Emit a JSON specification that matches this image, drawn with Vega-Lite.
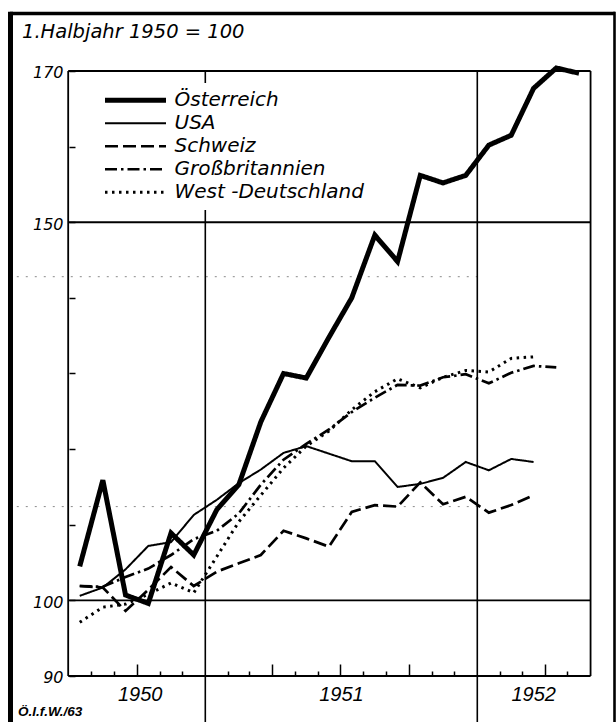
{
  "$schema": "https://vega.github.io/schema/vega-lite/v6.json",
  "width": 605,
  "height": 712,
  "autosize": "none",
  "padding": {"left": 10, "top": 10, "right": 1, "bottom": 0},
  "background": "white",
  "config": {"view": {"stroke": null}, "font": "DejaVu Sans"},
  "resolve": {"axis": {"x": "independent"}},
  "datasets": {
    "preise": [
      {"Land": "Österreich", "Monat": "1950-07", "Index": 104.5},
      {"Land": "Österreich", "Monat": "1950-08", "Index": 115.9},
      {"Land": "Österreich", "Monat": "1950-09", "Index": 100.7},
      {"Land": "Österreich", "Monat": "1950-10", "Index": 99.6},
      {"Land": "Österreich", "Monat": "1950-11", "Index": 108.9},
      {"Land": "Österreich", "Monat": "1950-12", "Index": 106.0},
      {"Land": "Österreich", "Monat": "1951-01", "Index": 112.0},
      {"Land": "Österreich", "Monat": "1951-02", "Index": 115.3},
      {"Land": "Österreich", "Monat": "1951-03", "Index": 123.6},
      {"Land": "Österreich", "Monat": "1951-04", "Index": 130.0},
      {"Land": "Österreich", "Monat": "1951-05", "Index": 129.4},
      {"Land": "Österreich", "Monat": "1951-06", "Index": 134.8},
      {"Land": "Österreich", "Monat": "1951-07", "Index": 140.0},
      {"Land": "Österreich", "Monat": "1951-08", "Index": 148.3},
      {"Land": "Österreich", "Monat": "1951-09", "Index": 144.8},
      {"Land": "Österreich", "Monat": "1951-10", "Index": 156.2},
      {"Land": "Österreich", "Monat": "1951-11", "Index": 155.2},
      {"Land": "Österreich", "Monat": "1951-12", "Index": 156.2},
      {"Land": "Österreich", "Monat": "1952-01", "Index": 160.2},
      {"Land": "Österreich", "Monat": "1952-02", "Index": 161.5},
      {"Land": "Österreich", "Monat": "1952-03", "Index": 167.7},
      {"Land": "Österreich", "Monat": "1952-04", "Index": 170.4},
      {"Land": "Österreich", "Monat": "1952-05", "Index": 169.7},
      {"Land": "USA", "Monat": "1950-07", "Index": 100.6},
      {"Land": "USA", "Monat": "1950-08", "Index": 101.7},
      {"Land": "USA", "Monat": "1950-09", "Index": 104.1},
      {"Land": "USA", "Monat": "1950-10", "Index": 107.2},
      {"Land": "USA", "Monat": "1950-11", "Index": 107.7},
      {"Land": "USA", "Monat": "1950-12", "Index": 111.3},
      {"Land": "USA", "Monat": "1951-01", "Index": 113.3},
      {"Land": "USA", "Monat": "1951-02", "Index": 115.5},
      {"Land": "USA", "Monat": "1951-03", "Index": 117.3},
      {"Land": "USA", "Monat": "1951-04", "Index": 119.5},
      {"Land": "USA", "Monat": "1951-05", "Index": 120.4},
      {"Land": "USA", "Monat": "1951-06", "Index": 119.4},
      {"Land": "USA", "Monat": "1951-07", "Index": 118.4},
      {"Land": "USA", "Monat": "1951-08", "Index": 118.4},
      {"Land": "USA", "Monat": "1951-09", "Index": 115.0},
      {"Land": "USA", "Monat": "1951-10", "Index": 115.4},
      {"Land": "USA", "Monat": "1951-11", "Index": 116.2},
      {"Land": "USA", "Monat": "1951-12", "Index": 118.3},
      {"Land": "USA", "Monat": "1952-01", "Index": 117.2},
      {"Land": "USA", "Monat": "1952-02", "Index": 118.7},
      {"Land": "USA", "Monat": "1952-03", "Index": 118.3},
      {"Land": "Schweiz", "Monat": "1950-07", "Index": 101.9},
      {"Land": "Schweiz", "Monat": "1950-08", "Index": 101.7},
      {"Land": "Schweiz", "Monat": "1950-09", "Index": 98.6},
      {"Land": "Schweiz", "Monat": "1950-10", "Index": 101.4},
      {"Land": "Schweiz", "Monat": "1950-11", "Index": 104.4},
      {"Land": "Schweiz", "Monat": "1950-12", "Index": 101.9},
      {"Land": "Schweiz", "Monat": "1951-01", "Index": 103.8},
      {"Land": "Schweiz", "Monat": "1951-02", "Index": 104.9},
      {"Land": "Schweiz", "Monat": "1951-03", "Index": 106.0},
      {"Land": "Schweiz", "Monat": "1951-04", "Index": 109.2},
      {"Land": "Schweiz", "Monat": "1951-05", "Index": 108.2},
      {"Land": "Schweiz", "Monat": "1951-06", "Index": 107.1},
      {"Land": "Schweiz", "Monat": "1951-07", "Index": 111.7},
      {"Land": "Schweiz", "Monat": "1951-08", "Index": 112.6},
      {"Land": "Schweiz", "Monat": "1951-09", "Index": 112.4},
      {"Land": "Schweiz", "Monat": "1951-10", "Index": 115.6},
      {"Land": "Schweiz", "Monat": "1951-11", "Index": 112.7},
      {"Land": "Schweiz", "Monat": "1951-12", "Index": 113.7},
      {"Land": "Schweiz", "Monat": "1952-01", "Index": 111.6},
      {"Land": "Schweiz", "Monat": "1952-02", "Index": 112.6},
      {"Land": "Schweiz", "Monat": "1952-03", "Index": 113.9},
      {"Land": "Großbritannien", "Monat": "1950-07", "Index": 101.9},
      {"Land": "Großbritannien", "Monat": "1950-08", "Index": 101.8},
      {"Land": "Großbritannien", "Monat": "1950-09", "Index": 103.1},
      {"Land": "Großbritannien", "Monat": "1950-10", "Index": 104.2},
      {"Land": "Großbritannien", "Monat": "1950-11", "Index": 106.0},
      {"Land": "Großbritannien", "Monat": "1950-12", "Index": 108.1},
      {"Land": "Großbritannien", "Monat": "1951-01", "Index": 109.2},
      {"Land": "Großbritannien", "Monat": "1951-02", "Index": 111.5},
      {"Land": "Großbritannien", "Monat": "1951-03", "Index": 115.3},
      {"Land": "Großbritannien", "Monat": "1951-04", "Index": 118.6},
      {"Land": "Großbritannien", "Monat": "1951-05", "Index": 120.7},
      {"Land": "Großbritannien", "Monat": "1951-06", "Index": 122.6},
      {"Land": "Großbritannien", "Monat": "1951-07", "Index": 124.9},
      {"Land": "Großbritannien", "Monat": "1951-08", "Index": 126.8},
      {"Land": "Großbritannien", "Monat": "1951-09", "Index": 128.5},
      {"Land": "Großbritannien", "Monat": "1951-10", "Index": 128.4},
      {"Land": "Großbritannien", "Monat": "1951-11", "Index": 129.5},
      {"Land": "Großbritannien", "Monat": "1951-12", "Index": 129.9},
      {"Land": "Großbritannien", "Monat": "1952-01", "Index": 128.7},
      {"Land": "Großbritannien", "Monat": "1952-02", "Index": 130.1},
      {"Land": "Großbritannien", "Monat": "1952-03", "Index": 131.0},
      {"Land": "Großbritannien", "Monat": "1952-04", "Index": 130.8},
      {"Land": "West -Deutschland", "Monat": "1950-07", "Index": 97.1},
      {"Land": "West -Deutschland", "Monat": "1950-08", "Index": 99.1},
      {"Land": "West -Deutschland", "Monat": "1950-09", "Index": 99.5},
      {"Land": "West -Deutschland", "Monat": "1950-10", "Index": 100.8},
      {"Land": "West -Deutschland", "Monat": "1950-11", "Index": 102.3},
      {"Land": "West -Deutschland", "Monat": "1950-12", "Index": 101.0},
      {"Land": "West -Deutschland", "Monat": "1951-01", "Index": 105.8},
      {"Land": "West -Deutschland", "Monat": "1951-02", "Index": 110.4},
      {"Land": "West -Deutschland", "Monat": "1951-03", "Index": 113.9},
      {"Land": "West -Deutschland", "Monat": "1951-04", "Index": 117.5},
      {"Land": "West -Deutschland", "Monat": "1951-05", "Index": 120.4},
      {"Land": "West -Deutschland", "Monat": "1951-06", "Index": 122.4},
      {"Land": "West -Deutschland", "Monat": "1951-07", "Index": 125.2},
      {"Land": "West -Deutschland", "Monat": "1951-08", "Index": 127.6},
      {"Land": "West -Deutschland", "Monat": "1951-09", "Index": 129.3},
      {"Land": "West -Deutschland", "Monat": "1951-10", "Index": 128.1},
      {"Land": "West -Deutschland", "Monat": "1951-11", "Index": 129.5},
      {"Land": "West -Deutschland", "Monat": "1951-12", "Index": 130.4},
      {"Land": "West -Deutschland", "Monat": "1952-01", "Index": 130.2},
      {"Land": "West -Deutschland", "Monat": "1952-02", "Index": 132.0},
      {"Land": "West -Deutschland", "Monat": "1952-03", "Index": 132.2}
    ]
  },
  "layer": [
    {
      "data": {"values": [{}]},
      "mark": {"type": "rule", "color": "#8a8a8a", "strokeWidth": 1, "strokeDash": [2, 7]},
      "encoding": {
        "x": {"datum": {"year": 1950, "month": 4, "date": 23, "utc": true}, "axis": null},
        "x2": {"datum": {"year": 1952, "month": 1, "date": 1, "utc": true}},
        "y": {"datum": 142.8}
      }
    },
    {
      "data": {"values": [{}]},
      "mark": {"type": "rule", "color": "#8a8a8a", "strokeWidth": 1, "strokeDash": [2, 7]},
      "encoding": {
        "x": {"datum": {"year": 1950, "month": 4, "date": 23, "utc": true}, "axis": null},
        "x2": {"datum": {"year": 1952, "month": 1, "date": 1, "utc": true}},
        "y": {"datum": 112.4}
      }
    },
    {
      "data": {"values": [{}]},
      "mark": {"type": "rule", "color": "black", "strokeWidth": 1.8},
      "encoding": {
        "x": {"datum": {"year": 1950, "month": 7, "date": 1, "utc": true}, "axis": null},
        "x2": {"datum": {"year": 1952, "month": 6, "date": 1, "utc": true}},
        "y": {"datum": 100}
      }
    },
    {
      "data": {"values": [{}]},
      "mark": {"type": "rule", "color": "black", "strokeWidth": 1.8},
      "encoding": {
        "x": {"datum": {"year": 1950, "month": 7, "date": 1, "utc": true}, "axis": null},
        "x2": {"datum": {"year": 1952, "month": 6, "date": 1, "utc": true}},
        "y": {"datum": 150}
      }
    },
    {
      "data": {"values": [{}]},
      "mark": {"type": "rule", "color": "black", "strokeWidth": 1.8},
      "encoding": {
        "x": {"datum": {"year": 1950, "month": 7, "date": 1, "utc": true}, "axis": null},
        "x2": {"datum": {"year": 1952, "month": 6, "date": 1, "utc": true}},
        "y": {"datum": 170}
      }
    },
    {
      "data": {"values": [{}]},
      "mark": {"type": "rule", "color": "black", "strokeWidth": 1.8},
      "encoding": {
        "x": {"datum": {"year": 1950, "month": 7, "date": 1, "utc": true}, "axis": null},
        "x2": {"datum": {"year": 1952, "month": 6, "date": 1, "utc": true}},
        "y": {"datum": 90}
      }
    },
    {
      "data": {"values": [{}]},
      "mark": {"type": "rule", "color": "black", "strokeWidth": 1.8},
      "encoding": {
        "x": {"datum": {"year": 1950, "month": 7, "date": 1, "utc": true}, "axis": null},
        "y": {"datum": 90},
        "y2": {"datum": 170}
      }
    },
    {
      "data": {"values": [{}]},
      "mark": {"type": "rule", "color": "black", "strokeWidth": 1.8},
      "encoding": {
        "x": {"datum": {"year": 1952, "month": 6, "date": 1, "utc": true}, "axis": null},
        "y": {"datum": 90},
        "y2": {"datum": 170}
      }
    },
    {
      "data": {"values": [{}]},
      "mark": {"type": "rule", "color": "black", "strokeWidth": 1.6},
      "encoding": {
        "x": {
          "datum": {"year": 1951, "month": 1, "date": 1, "utc": true},
          "axis": {
            "orient": "bottom", "offset": -46, "domain": false, "grid": false, "title": null,
            "labels": false, "ticks": true, "tickColor": "black", "tickWidth": 1.5, "tickSize": -12,
            "values": [
              {"year": 1950, "month": 10, "date": 1, "utc": true},
              {"year": 1951, "month": 4, "date": 1, "utc": true},
              {"year": 1951, "month": 7, "date": 1, "utc": true},
              {"year": 1951, "month": 10, "date": 1, "utc": true},
              {"year": 1952, "month": 4, "date": 1, "utc": true}
            ]
          }
        },
        "y": {"datum": 83.917},
        "y2": {"datum": 170}
      }
    },
    {
      "data": {"values": [{}]},
      "mark": {"type": "rule", "color": "black", "strokeWidth": 1.6},
      "encoding": {
        "x": {
          "datum": {"year": 1952, "month": 1, "date": 1, "utc": true},
          "axis": {
            "orient": "bottom", "offset": -46, "domain": false, "grid": false, "title": null,
            "ticks": false, "labelOverlap": false, "labelFlush": false, "labelBound": false,
            "values": [
              {"year": 1950, "month": 10, "date": 5, "utc": true},
              {"year": 1951, "month": 7, "date": 2, "utc": true},
              {"year": 1952, "month": 3, "date": 16, "utc": true}
            ],
            "labelExpr": "'' + utcyear(datum.value)",
            "labelFont": "Liberation Sans", "labelFontStyle": "italic", "labelFontSize": 20,
            "labelColor": "black", "labelPadding": 8.5
          }
        },
        "y": {"datum": 83.917},
        "y2": {"datum": 170}
      }
    },
    {
      "data": {"values": [{}]},
      "mark": {"type": "rule", "color": "black", "strokeWidth": 5},
      "encoding": {
        "x": {"datum": {"year": 1950, "month": 4, "date": 14, "hours": 14, "utc": true}, "axis": null},
        "y": {"datum": 83.917},
        "y2": {"datum": 177.85}
      }
    },
    {
      "data": {"values": [{}]},
      "mark": {"type": "rule", "color": "black", "strokeWidth": 3.5},
      "encoding": {
        "x": {"datum": {"year": 1950, "month": 4, "date": 13, "hours": 22, "utc": true}, "axis": null},
        "x2": {"datum": {"year": 1952, "month": 7, "date": 3, "hours": 19, "utc": true}},
        "y": {"datum": 177.6}
      }
    },
    {
      "data": {"values": [{}]},
      "mark": {"type": "rule", "color": "black", "strokeWidth": 2.6},
      "encoding": {
        "x": {"datum": {"year": 1952, "month": 7, "date": 3, "hours": 3, "utc": true}, "axis": null},
        "y": {"datum": 83.917},
        "y2": {"datum": 177.85}
      }
    },
    {
      "data": {"values": [{}]},
      "mark": {"type": "text", "text": "1.Halbjahr 1950 = 100", "align": "left", "baseline": "alphabetic", "font": "DejaVu Sans", "fontStyle": "italic", "fontSize": 19.5, "color": "black"},
      "encoding": {
        "x": {"datum": {"year": 1950, "month": 4, "date": 30, "utc": true}, "axis": null},
        "y": {"datum": 174.36}
      }
    },
    {
      "data": {"values": [{}]},
      "mark": {"type": "text", "text": "Ö.I.f.W./63", "align": "left", "baseline": "alphabetic", "font": "Liberation Sans", "fontStyle": "italic", "fontWeight": "bold", "fontSize": 13.5, "color": "black"},
      "encoding": {
        "x": {"datum": {"year": 1950, "month": 4, "date": 24, "hours": 15, "utc": true}, "axis": null},
        "y": {"datum": 84.71}
      }
    },
    {
      "data": {"name": "preise"},
      "mark": {"type": "line", "color": "black"},
      "encoding": {
        "x": {
          "field": "Monat",
          "timeUnit": "utcyearmonth",
          "type": "temporal",
          "bandPosition": 0.5,
          "scale": {
            "type": "utc",
            "nice": false,
            "domain": [
              {"year": 1950, "month": 4, "date": 13, "hours": 22, "utc": true},
              {"year": 1952, "month": 7, "date": 3, "hours": 19, "utc": true}
            ]
          },
          "axis": {
            "orient": "bottom",
            "offset": -46,
            "domain": false,
            "grid": false,
            "title": null,
            "labels": false,
            "values": [
              {"year": 1950, "month": 8, "date": 1, "utc": true},
              {"year": 1950, "month": 9, "date": 1, "utc": true},
              {"year": 1950, "month": 11, "date": 1, "utc": true},
              {"year": 1950, "month": 12, "date": 1, "utc": true},
              {"year": 1951, "month": 2, "date": 1, "utc": true},
              {"year": 1951, "month": 3, "date": 1, "utc": true},
              {"year": 1951, "month": 5, "date": 1, "utc": true},
              {"year": 1951, "month": 6, "date": 1, "utc": true},
              {"year": 1951, "month": 8, "date": 1, "utc": true},
              {"year": 1951, "month": 9, "date": 1, "utc": true},
              {"year": 1951, "month": 11, "date": 1, "utc": true},
              {"year": 1951, "month": 12, "date": 1, "utc": true},
              {"year": 1952, "month": 2, "date": 1, "utc": true},
              {"year": 1952, "month": 3, "date": 1, "utc": true},
              {"year": 1952, "month": 5, "date": 1, "utc": true}
            ],
            "tickColor": "black",
            "tickWidth": 1.5,
            "tickSize": -5
          }
        },
        "y": {
          "field": "Index",
          "type": "quantitative",
          "scale": {"domain": [83.917, 178.066], "nice": false, "zero": false},
          "axis": {
            "orient": "left",
            "offset": -59,
            "domain": false,
            "grid": false,
            "title": null,
            "values": [90, 100, 110, 120, 130, 140, 150, 160, 170],
            "tickSize": -6,
            "tickWidth": 1.5,
            "tickColor": "black",
            "labelExpr": "indexof([90, 100, 150, 170], datum.value) >= 0 ? datum.label : ''",
            "labelFont": "DejaVu Sans",
            "labelFontStyle": "italic",
            "labelFontSize": 16,
            "labelColor": "black",
            "labelPadding": 12,
            "labelOffset": 2,
            "labelOverlap": false,
            "labelFlush": false,
            "labelBound": false
          }
        },
        "strokeDash": {
          "field": "Land",
          "type": "nominal",
          "scale": {
            "domain": ["Österreich", "USA", "Schweiz", "Großbritannien", "West -Deutschland"],
            "range": [[1, 0], [1, 0], [13, 5], [12, 4, 2.5, 4], [2.5, 4.5]]
          },
          "legend": {
            "orient": "none", "legendX": 86.5, "legendY": 73, "title": null,
            "symbolType": "stroke", "symbolSize": 3721, "symbolStrokeColor": "black",
            "clipHeight": 22.5, "rowPadding": 0, "padding": 6, "fillColor": "white",
            "labelFont": "DejaVu Sans", "labelFontStyle": "italic", "labelFontSize": 20,
            "labelColor": "black", "labelOffset": 6, "labelLimit": 400
          }
        },
        "strokeWidth": {
          "field": "Land",
          "type": "nominal",
          "scale": {
            "type": "ordinal",
            "domain": ["Österreich", "USA", "Schweiz", "Großbritannien", "West -Deutschland"],
            "range": [5, 2, 2.7, 2.7, 3]
          },
          "legend": {
            "orient": "none", "legendX": 86.5, "legendY": 73, "title": null,
            "symbolType": "stroke", "symbolSize": 3721, "symbolStrokeColor": "black",
            "clipHeight": 22.5, "rowPadding": 0, "padding": 6, "fillColor": "white",
            "labelFont": "DejaVu Sans", "labelFontStyle": "italic", "labelFontSize": 20,
            "labelColor": "black", "labelOffset": 6, "labelLimit": 400
          }
        }
      }
    }
  ]
}
